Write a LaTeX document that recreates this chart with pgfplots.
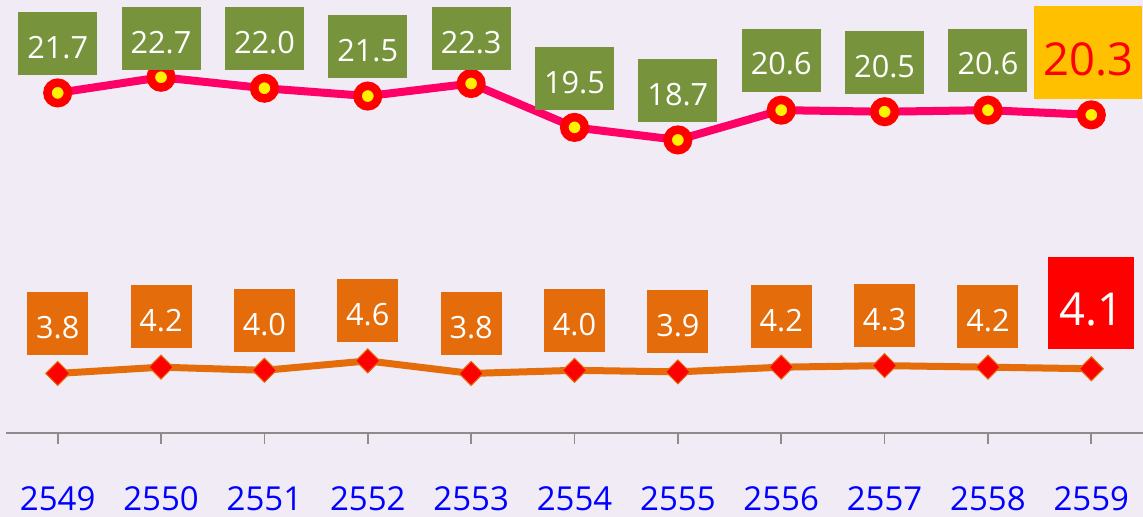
\documentclass[border=0pt]{standalone}
\usepackage{pgfplots}
\usepackage{pgfplotstable}
\pgfplotsset{compat=1.18}
\usepackage{fontspec}
\setmainfont{Open Sans}
\definecolor{bg}{HTML}{F0EBF4}
\definecolor{olive}{HTML}{77933C}
\definecolor{orng}{HTML}{E46C0A}
\definecolor{gold}{HTML}{FFC000}
\definecolor{pinkline}{HTML}{FF0066}
\definecolor{axgray}{HTML}{8C8C8C}
\def\px{0.75pt}
\newcommand\yearfont{\fontsize{24.75pt}{26pt}\selectfont}
\newcommand\boxfont{\fontsize{23pt}{24pt}\selectfont}
\newcommand\bigfont{\fontsize{34pt}{36pt}\selectfont}

\pgfplotstableread{
x y ly
2549 21.7 24.86
2550 22.7 25.18
2551 22.0 25.18
2552 21.5 24.67
2553 22.3 25.18
2554 19.5 22.62
2555 18.7 21.86
2556 20.6 23.80
2557 20.5 23.64
2558 20.6 23.80
2559 20.3 24.25
}\topdata
\pgfplotstableread{
x y ly
2549 3.8 6.99
2550 4.2 7.43
2551 4.0 7.18
2552 4.6 7.82
2553 3.8 6.99
2554 4.0 7.18
2555 3.9 7.12
2556 4.2 7.43
2557 4.3 7.50
2558 4.2 7.43
2559 4.1 8.30
}\botdata

\begin{document}
\begin{tikzpicture}
\fill[bg] (-4.5pt,-63pt) rectangle (852.75pt,324.75pt);
\begin{axis}[
  at={(0pt,0pt)}, anchor=south west, scale only axis,
  width=852.75pt, height=324.75pt,
  xmin=2548.5, xmax=2559.5, ymin=0, ymax=27.63,
  axis x line*=bottom, axis y line=none,
  axis line style={-, axgray, line width=1.5*\px},
  xtick={2549,2550,2551,2552,2553,2554,2555,2556,2557,2558,2559},
  xticklabels={2549,2550,2551,2552,2553,2554,2555,2556,2557,2558,2559},
  tick align=outside, major tick length=11*\px,
  tick style={axgray, line width=1.8*\px},
  xticklabel style={font=\yearfont, text=blue, anchor=north, yshift=-38*\px},
  clip=false,
]
% top series
\addplot[pinkline, line width=8*\px, mark=*, mark size=10.25*\px,
  mark options={fill=yellow, draw=red, line width=8.5*\px}]
  table[x=x,y=y]{\topdata};
% bottom series
\addplot[orng, line width=7*\px, mark=square*, mark size=8.5*\px,
  mark options={rotate=45, fill=red, draw=orng, line width=1*\px}]
  table[x=x,y=y]{\botdata};
% top labels
\addplot[draw=none, mark=none, nodes near coords, point meta=explicit symbolic,
  skip coords between index={10}{11},
  every node near coord/.append style={fill=olive, text=white, font=\boxfont,
    minimum width=79*\px, minimum height=63*\px, inner sep=0pt, anchor=center,
    text height=22pt, text depth=0pt}]
  table[x=x,y=ly,meta=y]{\topdata};
\addplot[draw=none, mark=none, nodes near coords, point meta=explicit symbolic,
  skip coords between index={0}{10},
  every node near coord/.append style={fill=gold, text=red, font=\bigfont,
    minimum width=108*\px, minimum height=93*\px, inner sep=0pt, anchor=center, xshift=-3*\px,
    text height=34pt, text depth=0pt}]
  table[x=x,y=ly,meta=y]{\topdata};
% bottom labels
\addplot[draw=none, mark=none, nodes near coords, point meta=explicit symbolic,
  skip coords between index={10}{11},
  every node near coord/.append style={fill=orng, text=white, font=\boxfont,
    minimum width=61*\px, minimum height=63*\px, inner sep=0pt, anchor=center,
    text height=22pt, text depth=0pt}]
  table[x=x,y=ly,meta=y]{\botdata};
\addplot[draw=none, mark=none, nodes near coords, point meta=explicit symbolic,
  skip coords between index={0}{10},
  every node near coord/.append style={fill=red, text=white, font=\bigfont,
    minimum width=86*\px, minimum height=92*\px, inner sep=0pt, anchor=center,
    text height=34pt, text depth=0pt}]
  table[x=x,y=ly,meta=y]{\botdata};
\end{axis}
\pgfresetboundingbox
\path (-4.5pt,-63pt) rectangle (852.75pt,324.75pt);
\end{tikzpicture}
\end{document}
